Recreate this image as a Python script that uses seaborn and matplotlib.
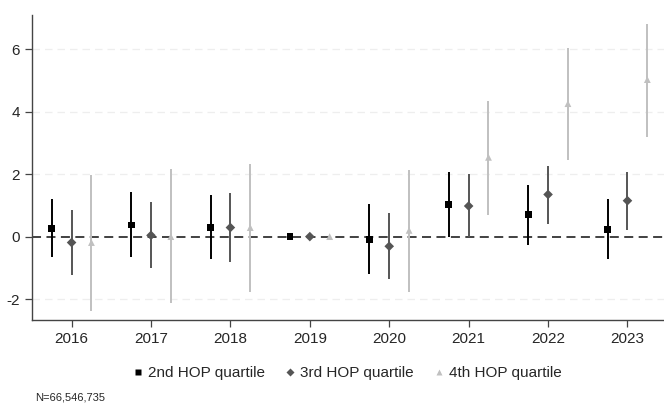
import numpy as np
import pandas as pd
import matplotlib
matplotlib.use("Agg")
import matplotlib.pyplot as plt
import seaborn as sns

years = [2016, 2017, 2018, 2019, 2020, 2021, 2022, 2023]
groups = ["2nd HOP quartile", "3rd HOP quartile", "4th HOP quartile"]

# point estimates and 95% CI bounds
q2_est = [0.26, 0.37, 0.29, 0.0, -0.08, 1.04, 0.70, 0.24]
q2_lo = [-0.66, -0.66, -0.73, np.nan, -1.20, 0.0, -0.28, -0.73]
q2_hi = [1.20, 1.42, 1.34, np.nan, 1.03, 2.08, 1.65, 1.21]

q3_est = [-0.19, 0.04, 0.29, 0.0, -0.31, 0.98, 1.35, 1.15]
q3_lo = [-1.24, -1.01, -0.81, np.nan, -1.37, 0.0, 0.41, 0.21]
q3_hi = [0.86, 1.11, 1.39, np.nan, 0.76, 1.99, 2.27, 2.06]

q4_est = [-0.19, 0.0, 0.29, 0.0, 0.20, 2.54, 4.26, 5.03]
q4_lo = [-2.39, -2.13, -1.76, np.nan, -1.76, 0.70, 2.46, 3.20]
q4_hi = [1.96, 2.16, 2.33, np.nan, 2.13, 4.36, 6.04, 6.81]

colors = {"2nd HOP quartile": "#000000", "3rd HOP quartile": "#555555",
          "4th HOP quartile": "#c0c0c0"}
markers = {"2nd HOP quartile": "s", "3rd HOP quartile": "D",
           "4th HOP quartile": "^"}
offsets = {"2nd HOP quartile": -0.25, "3rd HOP quartile": 0.0,
           "4th HOP quartile": 0.25}

frames = []
for g, est, lo, hi in zip(groups, [q2_est, q3_est, q4_est],
                          [q2_lo, q3_lo, q4_lo], [q2_hi, q3_hi, q4_hi]):
    frames.append(pd.DataFrame({"year": years, "group": g, "est": est,
                                "lo": lo, "hi": hi}))
df = pd.concat(frames, ignore_index=True)
df["xpos"] = df["year"] + df["group"].map(offsets)

sns.set_style("white")
plt.rcParams["font.family"] = ["Liberation Sans", "DejaVu Sans"]
plt.rcParams["axes.unicode_minus"] = False

fig = plt.figure(figsize=(6.64, 4.05), dpi=100)
ax = fig.add_axes([0.048, 0.21, 0.952, 0.753])

# gridlines and zero line
for yv in [-2, 2, 4, 6]:
    ax.axhline(yv, color="#eeeeee", lw=0.9, ls=(0, (6, 4)), zorder=0)
ax.axhline(0, color="#333333", lw=1.3, ls=(0, (5, 3)), zorder=1)

# confidence intervals
for g in groups:
    sub = df[df["group"] == g].dropna()
    ax.vlines(sub["xpos"], sub["lo"], sub["hi"], color=colors[g], lw=1.4,
              zorder=2)

sns.scatterplot(data=df, x="xpos", y="est", hue="group", style="group",
                palette=colors, markers=markers, s=24, edgecolor="none",
                ax=ax, zorder=3)

ax.set_xlim(2015.5, 2023.46)
ax.set_ylim(-2.67, 7.1)
ax.set_xticks(years)
ax.set_yticks([-2, 0, 2, 4, 6])
ax.set_xlabel("")
ax.set_ylabel("")
ax.tick_params(axis="both", labelsize=11, length=5, width=0.9,
               color="#444444", direction="out", bottom=True, left=True)
for side in ["top", "right"]:
    ax.spines[side].set_visible(False)
for side in ["left", "bottom"]:
    ax.spines[side].set_color("#444444")
    ax.spines[side].set_linewidth(1.0)

handles, labels = ax.get_legend_handles_labels()
ax.legend(handles, labels, loc="center", bbox_to_anchor=(0.5, -0.174),
          ncol=3, frameon=False, fontsize=11, handlelength=0.5,
          handletextpad=0.4, columnspacing=1.4, markerscale=0.75)

fig.text(35 / 664, 1 - 398 / 405, "N=66,546,735", fontsize=8, va="center")

fig.savefig("out.png", dpi=100)
